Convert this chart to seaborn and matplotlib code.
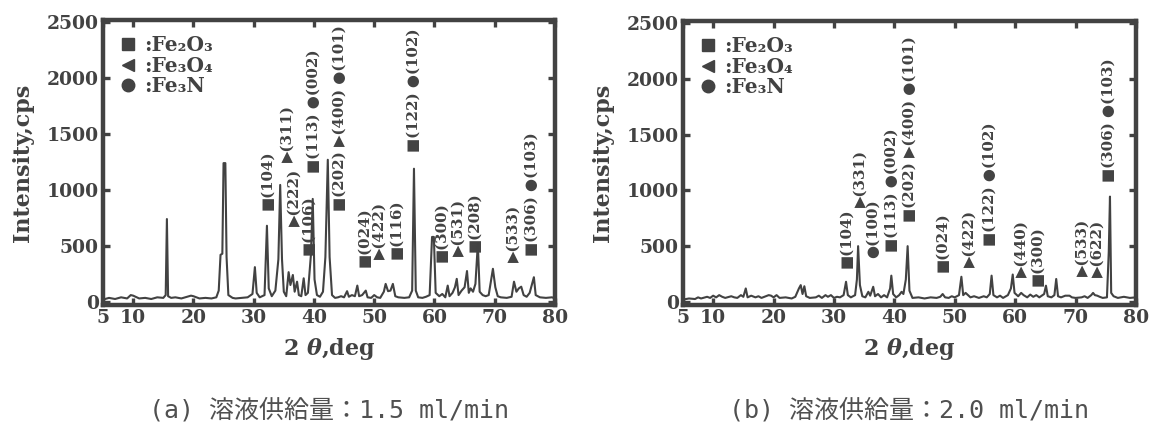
import matplotlib
matplotlib.use("Agg")
import matplotlib.pyplot as plt
from matplotlib.lines import Line2D
import seaborn as sns
import pandas as pd

# ---- XRD pattern (a): solution feed 1.5 ml/min ----
two_theta_a = [
    5.0, 6.0, 7.0, 8.0, 9.0, 9.6, 10.0, 10.4, 11.0, 12.0, 13.0, 14.0, 15.0, 15.4, 15.6, 15.8,
    16.3, 17.0, 18.0, 19.0, 19.6, 20.0, 20.5, 21.0, 22.0, 23.0, 23.8, 24.2, 24.5, 24.8, 25.0,
    25.3, 25.5, 25.8, 26.5, 27.0, 28.0, 29.0, 29.8, 30.2, 30.5, 31.0, 31.8, 32.2, 32.5, 33.0,
    33.6, 34.1, 34.4, 34.7, 35.0, 35.4, 35.8, 36.1, 36.5, 36.8, 37.2, 37.5, 37.9, 38.3, 38.6,
    39.0, 39.5, 39.8, 40.1, 40.5, 41.0, 41.5, 41.9, 42.3, 42.6, 43.0, 43.5, 44.0, 44.5, 45.0,
    45.5, 45.8, 46.3, 46.8, 47.2, 47.5, 48.0, 48.6, 48.9, 49.5, 50.0, 50.5, 51.0, 51.6, 51.9,
    52.3, 52.7, 53.1, 53.5, 54.0, 55.0, 55.8, 56.3, 56.6, 56.9, 57.3, 58.0, 58.6, 59.2, 59.6,
    59.9, 60.2, 60.8, 61.3, 61.8, 62.2, 62.5, 63.0, 63.4, 63.7, 64.0, 64.5, 65.0, 65.4, 65.7,
    66.0, 66.4, 66.8, 67.2, 67.5, 68.0, 68.5, 69.0, 69.3, 69.7, 70.1, 70.5, 71.0, 72.0, 72.8,
    73.2, 73.6, 74.0, 74.4, 74.8, 75.3, 75.8, 76.2, 76.5, 76.8, 77.5, 78.5, 79.5, 80.0,
]
intensity_a = [
    20, 35, 25, 40, 30, 60, 55, 45, 30, 35, 25, 40, 35, 60, 740, 50,
    35, 40, 30, 45, 55, 50, 40, 30, 35, 30, 40, 100, 420, 430, 1240,
    1240, 400, 60, 35, 30, 35, 40, 70, 310, 80, 40, 60, 680, 120, 50,
    100, 380, 1045, 380, 90, 50, 265, 150, 240, 90, 180, 60, 50, 210, 60,
    80, 420, 920, 200, 60, 45, 90, 400, 1270, 400, 60, 35, 40, 50, 40,
    95, 45, 60, 50, 145, 50, 60, 100, 40, 35, 60, 40, 35, 90, 160,
    95, 100, 160, 50, 40, 35, 40, 100, 1190, 100, 40, 35, 45, 60, 580,
    580, 80, 50, 70, 40, 145, 50, 80, 130, 205, 60, 100, 130, 275, 80,
    120, 90, 160, 520, 90, 60, 50, 60, 160, 295, 130, 50, 40, 35, 45,
    180, 90, 120, 135, 60, 45, 80, 160, 220, 60, 40, 35, 40, 30,
]

# ---- XRD pattern (b): solution feed 2.0 ml/min ----
two_theta_b = [
    5.0, 6.0, 7.0, 7.5, 8.0, 9.0, 9.5, 10.0, 10.5, 11.0, 11.5, 12.0, 13.0, 13.5, 14.0, 14.6,
    15.0, 15.4, 15.7, 16.3, 17.0, 17.5, 18.0, 18.5, 19.2, 19.6, 20.0, 20.5, 21.0, 22.0, 23.0,
    23.6, 24.2, 24.5, 24.8, 25.1, 25.4, 26.0, 27.0, 27.5, 28.0, 28.6, 29.0, 29.5, 30.0, 30.5,
    31.0, 31.6, 32.0, 32.3, 32.8, 33.5, 33.8, 34.0, 34.3, 34.7, 35.2, 35.7, 36.0, 36.5, 36.8,
    37.3, 37.8, 38.3, 38.8, 39.3, 39.5, 39.8, 40.3, 40.8, 41.2, 41.5, 41.9, 42.2, 42.5, 43.0,
    44.0, 45.0, 46.0, 47.0, 47.6, 48.0, 48.4, 49.0, 49.5, 50.0, 50.7, 51.1, 51.4, 51.8, 52.2,
    52.6, 53.2, 54.0, 54.8, 55.3, 55.8, 56.1, 56.4, 57.0, 57.5, 58.0, 58.8, 59.3, 59.6, 59.9,
    60.5, 61.0, 61.4, 62.0, 62.5, 63.0, 63.5, 64.0, 64.8, 65.1, 65.4, 66.0, 66.5, 66.8, 67.1,
    67.6, 68.3, 69.0, 69.4, 70.0, 71.0, 71.5, 72.0, 72.6, 72.9, 73.2, 73.6, 74.0, 74.5, 75.2,
    75.5, 75.7, 75.9, 76.3, 77.0, 78.0, 79.0, 80.0,
]
intensity_b = [
    20, 30, 25, 40, 30, 45, 35, 55, 40, 60, 45, 35, 50, 40, 35, 60,
    45, 120, 40, 55, 40, 50, 35, 45, 60, 55, 40, 60, 35, 40, 30,
    45, 120, 150, 70, 140, 50, 35, 40, 55, 35, 60, 45, 60, 35, 45,
    40, 60, 180, 60, 40, 60, 200, 500, 150, 50, 40, 90, 55, 135, 50,
    70, 40, 60, 40, 120, 235, 70, 40, 60, 90, 70, 200, 500, 100, 35,
    40, 30, 40, 35, 45, 70, 40, 35, 50, 40, 60, 225, 60, 80, 60,
    40, 50, 35, 50, 40, 70, 235, 60, 40, 55, 35, 60, 120, 245, 80,
    50, 80, 60, 40, 65, 45, 60, 40, 70, 145, 50, 40, 60, 205, 50,
    40, 55, 55, 40, 35, 40, 50, 35, 60, 80, 60, 55, 45, 35, 40,
    450, 945, 80, 50, 35, 45, 35, 40,
]

# ---- peak indexing labels (2θ position, intensity at label foot, text) ----
label_pos_a = [32.3, 35.6, 36.8, 39.0, 40.0, 44.2, 48.3, 50.9, 53.6, 56.5, 61.2, 64.0, 66.6, 73.2, 76.2]
label_foot_a = [820, 1250, 680, 420, 1150, 815, 310, 385, 385, 1340, 355, 410, 445, 355, 410]
label_text_a = [
    "■(104)", "▶(311)", "▶(222)", "■(106)", "■(113) ●(002)", "■(202) ▶(400) ●(101)",
    "■(024)", "▶(422)", "■(116)", "■(122) ●(102)", "■(300)", "▶(531)", "■(208)",
    "▶(533)", "■(306) ●(103)",
]

label_pos_b = [32.1, 34.4, 36.5, 39.6, 42.6, 47.9, 52.5, 55.8, 61.1, 63.6, 71.2, 73.7, 75.4]
label_foot_b = [300, 850, 390, 450, 720, 270, 315, 505, 225, 145, 235, 225, 1080]
label_text_b = [
    "■(104)", "▶(331)", "●(100)", "■(113) ●(002)", "■(202) ▶(400) ●(101)", "■(024)",
    "▶(422)", "■(122) ●(102)", "▶(440)", "■(300)", "▶(533)", "▶(622)", "■(306) ●(103)",
]

phase_markers = ["s", "<", "o"]
phase_names = [":Fe₂O₃", ":Fe₃O₄", ":Fe₃N"]

x_ticks = [5, 10, 20, 30, 40, 50, 60, 70, 80]
y_ticks = [0, 500, 1000, 1500, 2000, 2500]

captions = ["(a) 溶液供給量：1.5 ml/min", "(b) 溶液供給量：2.0 ml/min"]

# ---- styling ----
sns.set_theme(style="ticks")
INK = "#424242"
SERIF = ["DejaVu Serif", "DejaVu Sans"]
plt.rcParams["font.family"] = SERIF
plt.rcParams["font.weight"] = "bold"
plt.rcParams["mathtext.fontset"] = "dejavuserif"

fig = plt.figure(figsize=(11.55, 4.25), dpi=100)
ax_a = fig.add_axes([0.0892, 0.282, 0.3913, 0.671])
ax_b = fig.add_axes([0.5913, 0.282, 0.3922, 0.668])

panels = [
    (ax_a, two_theta_a, intensity_a, label_pos_a, label_foot_a, label_text_a),
    (ax_b, two_theta_b, intensity_b, label_pos_b, label_foot_b, label_text_b),
]

for i, (ax, tt, inten, lp, lf, lt) in enumerate(panels):
    df = pd.DataFrame({"two_theta": tt, "intensity": inten})
    sns.lineplot(data=df, x="two_theta", y="intensity", ax=ax, estimator=None,
                 sort=False, color=INK, linewidth=1.5)
    ax.set_xlim(5, 80)
    ax.set_ylim(-30, 2520)
    ax.set_xticks(x_ticks)
    ax.set_yticks(y_ticks)
    ax.tick_params(direction="in", length=5, width=2.4, colors=INK,
                   top=True, right=True, labelsize=13.5, pad=3)
    for lab in ax.get_xticklabels() + ax.get_yticklabels():
        lab.set_fontweight("bold")
        lab.set_color(INK)
    for sp in ax.spines.values():
        sp.set_linewidth(3.2)
        sp.set_color(INK)
    ax.set_xlabel("2 $\\mathit{\\theta}$,deg", fontsize=16, color=INK, fontweight="bold", labelpad=6)
    ax.set_ylabel("Intensity,cps", fontsize=16, color=INK, fontweight="bold")

    for x, y, s in zip(lp, lf, lt):
        ax.text(x, y, s, rotation=90, ha="center", va="bottom", fontsize=10.8,
                color=INK, fontweight="bold", family=SERIF)

    handles = [Line2D([], [], marker=m, linestyle="none", color=INK, markersize=9)
               for m in phase_markers]
    leg = ax.legend(handles, phase_names, loc="upper left", bbox_to_anchor=(0.02, 0.975),
                    borderaxespad=0, frameon=False, handlelength=0.8, handletextpad=0.4,
                    labelspacing=0.02, prop={"family": SERIF, "weight": "bold", "size": 14.5})
    for t in leg.get_texts():
        t.set_color(INK)

    fig.text(ax.get_position().x0 + ax.get_position().width / 2, 0.035, captions[i],
             ha="center", va="center", fontsize=18, color="#505050",
             family=["DejaVu Sans Mono", "Noto Sans CJK JP"], fontweight="normal")

ax_a.yaxis.set_label_coords(-0.152, 0.5)
ax_b.yaxis.set_label_coords(-0.152, 0.5)

fig.savefig("out.png", dpi=100, facecolor="white")
